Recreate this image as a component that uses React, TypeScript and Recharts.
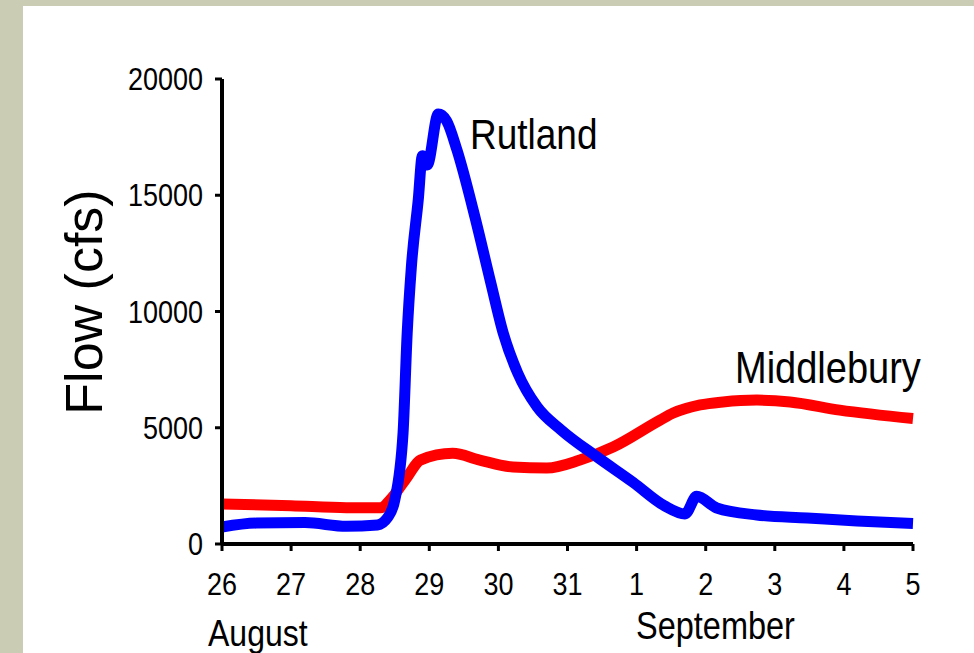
import { LineChart, Line, XAxis, YAxis } from 'recharts';

// day 0 = 26 August, day 10 = 5 September
const dayTicks = [0, 1, 2, 3, 4, 5, 6, 7, 8, 9, 10];
const dayLabels = ['26', '27', '28', '29', '30', '31', '1', '2', '3', '4', '5'];
const flowTicks = [0, 5000, 10000, 15000, 20000];

const rutlandDays = [0, 0.5, 1.2, 1.8, 2.25, 2.4, 2.5, 2.62, 2.68, 2.74, 2.84, 2.9, 2.97, 3.13, 3.25, 3.4, 3.66, 3.89, 4.07, 4.28, 4.56, 4.91, 5.43, 5.95, 6.4, 6.7, 6.87, 7.16, 7.74, 8.47, 9.19, 10];
const rutlandFlow = [730, 900, 920, 760, 820, 1150, 1890, 4770, 9070, 11900, 14800, 16700, 16300, 18490, 18200, 16950, 14070, 11230, 9070, 7350, 5900, 4900, 3740, 2650, 1650, 1290, 2050, 1550, 1250, 1120, 990, 880];

const middleburyDays = [0, 1.0, 1.8, 2.3, 2.43, 2.68, 2.87, 3.34, 3.73, 4.21, 4.7, 5.18, 5.66, 6.34, 6.53, 6.92, 7.25, 7.74, 8.22, 8.94, 10];
const middleburyFlow = [1720, 1650, 1560, 1560, 1890, 2880, 3610, 3900, 3610, 3310, 3270, 3610, 4170, 5330, 5630, 5980, 6110, 6190, 6110, 5760, 5400];

const rutland = rutlandDays.map((day, i) => ({ day, flow: rutlandFlow[i] }));
const middlebury = middleburyDays.map((day, i) => ({ day, flow: middleburyFlow[i] }));

const FONT = '"Liberation Sans", Arial, sans-serif';
const STRETCH = 1.17;

function XTick({ x, y, payload }: any) {
  return (
    <g transform={`translate(${x},${y}) scale(1,${STRETCH})`}>
      <text textAnchor="middle" y={19} fontSize={27} fontFamily={FONT} fill="#000">
        {dayLabels[dayTicks.indexOf(payload.value)]}
      </text>
    </g>
  );
}

function YTick({ x, y, payload }: any) {
  return (
    <g transform={`translate(${x},${y}) scale(1,${STRETCH})`}>
      <text textAnchor="end" y={9.5} fontSize={27} fontFamily={FONT} fill="#000">
        {payload.value}
      </text>
    </g>
  );
}

function Stretched({ x, y, size, children }: any) {
  return (
    <g transform={`translate(${x},${y}) scale(1,${STRETCH})`}>
      <text fontSize={size} fontFamily={FONT} fill="#000">{children}</text>
    </g>
  );
}

export default function App() {
  return (
    <div style={{ position: 'absolute', left: 0, top: 0, width: 974, height: 653, background: '#cacdb4', overflow: 'hidden' }}>
      <div style={{ position: 'absolute', left: 23, top: 6, width: 951, height: 647, background: '#fff' }} />
      <div style={{ position: 'absolute', left: 0, top: 0 }}>
        <LineChart width={974} height={653} margin={{ top: 79, right: 61, bottom: 0, left: 0 }}>
          <XAxis
            dataKey="day"
            type="number"
            domain={[0, 10]}
            ticks={dayTicks}
            interval={0}
            axisLine={{ stroke: '#000', strokeWidth: 4 }}
            tickLine={{ stroke: '#000', strokeWidth: 3 }}
            tickSize={7}
            tickMargin={22}
            tick={<XTick />}
            height={109}
          />
          <YAxis
            type="number"
            domain={[0, 20000]}
            ticks={flowTicks}
            interval={0}
            width={222}
            axisLine={{ stroke: '#000', strokeWidth: 4 }}
            tickLine={{ stroke: '#000', strokeWidth: 3 }}
            tickSize={7}
            tickMargin={12}
            tick={<YTick />}
          />
          <Line data={middlebury} dataKey="flow" type="monotone" stroke="#ff0000" strokeWidth={11} dot={false} isAnimationActive={false} />
          <Line data={rutland} dataKey="flow" type="monotone" stroke="#0000ff" strokeWidth={11} dot={false} isAnimationActive={false} />
        </LineChart>
      </div>
      <svg width={974} height={653} style={{ position: 'absolute', left: 0, top: 0, pointerEvents: 'none' }}>
        <Stretched x={470} y={149} size={37}>Rutland</Stretched>
        <Stretched x={735} y={383} size={38}>Middlebury</Stretched>
        <Stretched x={208} y={646} size={32}>August</Stretched>
        <Stretched x={636} y={639} size={32.5}>September</Stretched>
        <text transform="translate(102,302) rotate(-90)" textAnchor="middle" fontSize={52} fontFamily={FONT} fill="#000">
          Flow (cfs)
        </text>
      </svg>
    </div>
  );
}
